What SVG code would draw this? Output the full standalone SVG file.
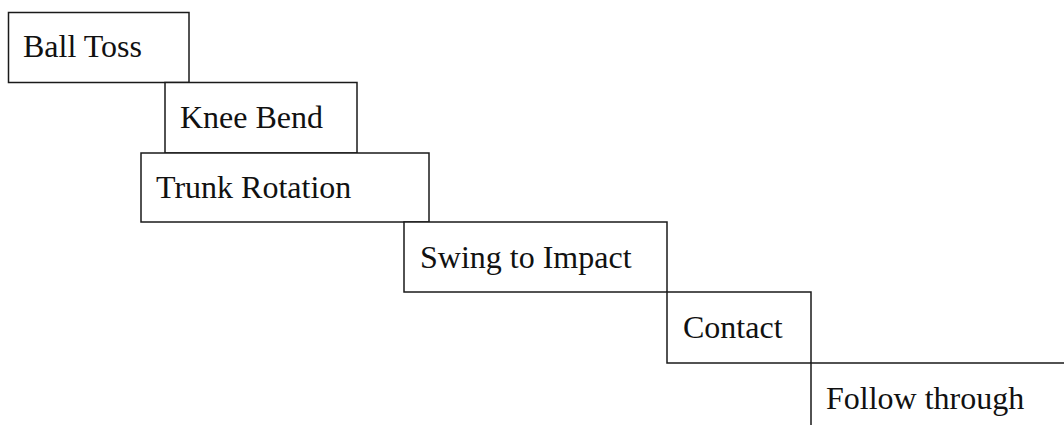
<svg xmlns="http://www.w3.org/2000/svg" width="1064" height="425" viewBox="0 0 1064 425">
<style>
.box{fill:#fff;stroke:#1a1a1a;stroke-width:1.5}
.lbl{font-family:"Liberation Serif","Times New Roman",serif;font-size:32px;fill:#111}
</style>
<rect width="1064" height="425" fill="#fff"/>
<g id="ball-toss"><rect class="box" x="8.5" y="12.5" width="180.5" height="70"/><text class="lbl" x="23" y="57">Ball Toss</text></g>
<g id="knee-bend"><rect class="box" x="165" y="82.5" width="192" height="70.5"/><text class="lbl" x="180" y="128">Knee Bend</text></g>
<g id="trunk-rotation"><rect class="box" x="141" y="153" width="288" height="69"/><text class="lbl" x="156" y="198">Trunk Rotation</text></g>
<g id="swing-to-impact"><rect class="box" x="404" y="222" width="263" height="70"/><text class="lbl" x="420" y="268">Swing to Impact</text></g>
<g id="contact"><rect class="box" x="667" y="292" width="144" height="71"/><text class="lbl" x="683" y="338">Contact</text></g>
<g id="follow-through"><rect class="box" x="811" y="363" width="300" height="100"/><text class="lbl" x="826" y="409">Follow through</text></g>
<g id="connectors"></g>
</svg>
